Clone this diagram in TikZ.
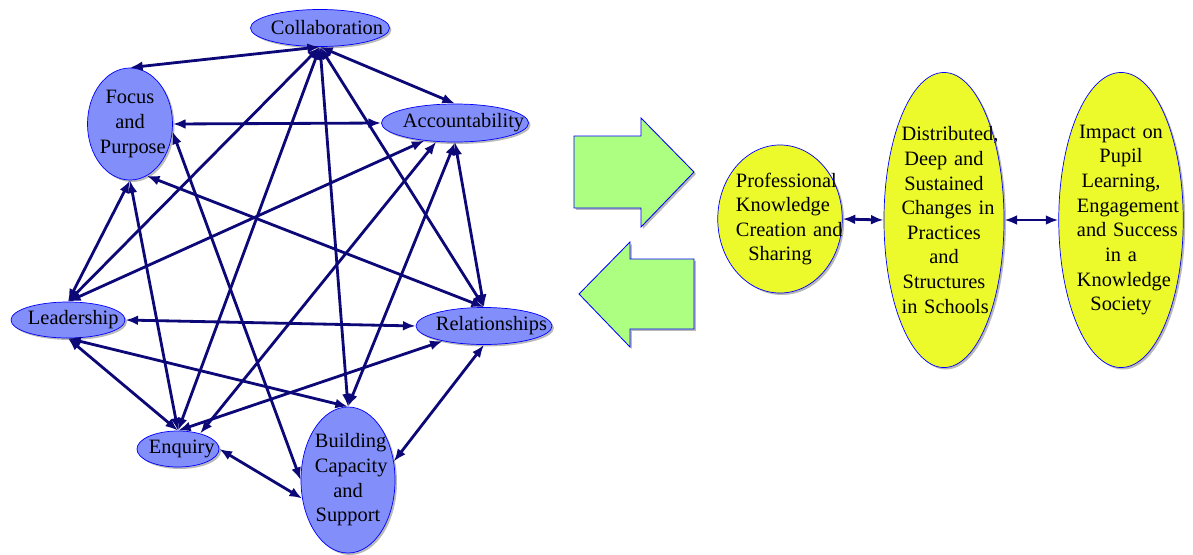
\documentclass[tikz,border=0pt]{standalone}
\usepackage{fontspec}
\setmainfont{Liberation Serif}
\usetikzlibrary{shapes.geometric,arrows.meta,shadows}
\hyphenpenalty=10000
\definecolor{bubbleblue}{RGB}{130,142,250}
\definecolor{bubbleyellow}{RGB}{236,250,44}
\definecolor{arrowgreen}{RGB}{172,255,128}
\definecolor{linknavy}{RGB}{12,8,120}
\tikzstyle{factor}=[ellipse,draw=blue,line width=0.5pt,fill=bubbleblue,inner sep=0pt,align=center,font=\fontsize{14.5}{17.5}\selectfont,drop shadow={shadow xshift=1.4pt,shadow yshift=-1.4pt,fill=black!55}]
\tikzstyle{outcome}=[factor,fill=bubbleyellow]
\tikzstyle{link}=[{Latex[length=9pt,width=7pt]}-{Latex[length=9pt,width=7pt]},line width=2pt,draw=linknavy]
\tikzstyle{bigarrow}=[fill=arrowgreen,draw=blue,line width=0.6pt,drop shadow={shadow xshift=1.4pt,shadow yshift=-1.4pt,fill=black!55}]

\begin{document}
\begin{tikzpicture}[x=0.025cm,y=-0.025cm]
\useasboundingbox (0,0) rectangle (1193,554);
% the seven factors
\node[factor,minimum width=3.475cm,minimum height=0.925cm,text width=2.45cm] at (320,28) (col) {Collaboration};
\node[factor,minimum width=2.125cm,minimum height=2.8cm,text width=1.5cm] at (130,124) (foc) {Focus\\and\\Purpose};
\node[factor,minimum width=3.675cm,minimum height=0.95cm,text width=2.6cm] at (455,123) (acc) {Accountability};
\node[factor,minimum width=2.85cm,minimum height=0.9cm,text width=2.0cm] at (68,320) (lea) {Leadership};
\node[factor,minimum width=3.4cm,minimum height=0.925cm,text width=2.4cm] at (484,326) (rel) {Relationships};
\node[factor,minimum width=2.05cm,minimum height=0.9cm,text width=1.45cm] at (178,449) (enq) {Enquiry};
\node[factor,minimum width=2.35cm,minimum height=3.65cm,text width=1.65cm] at (348,480) (bui) {Building\\Capacity\\and\\Support};
% every factor linked to every other
\draw[link] (col.south) -- (foc.north);
\draw[link] (col.south) -- (acc.north);
\draw[link] (col.south) -- (lea.north);
\draw[link] (col.south) -- (enq.north);
\draw[link] (col.south) -- (bui.north);
\draw[link] (col.south) -- (rel.north);
\draw[link] (acc.west) -- (foc.east);
\draw[link] (foc.south) -- (lea.north);
\draw[link] (foc.south) -- (enq.north);
\draw[link] (foc.-72) -- (rel.north);
\draw[link] (foc.-10) -- (bui.west);
\draw[link] (acc.-150) -- (lea.north);
\draw[link] (acc.-135) -- (enq.35);
\draw[link] (acc.south) -- (bui.north);
\draw[link] (acc.south) -- (rel.north);
\draw[link] (lea.east) -- (rel.west);
\draw[link] (lea.south) -- (enq.north);
\draw[link] (lea.south) -- (bui.north);
\draw[link] (rel.-160) -- (enq.north);
\draw[link] (rel.south) -- (bui.22);
\draw[link] (enq.east) -- (bui.-158);
% the two block arrows
\filldraw[bigarrow] (574,136) -- (641,136) -- (641,118) -- (694,172) -- (641,227) -- (641,208) -- (574,208) -- cycle;
\filldraw[bigarrow] (694,259) -- (630,259) -- (630,242) -- (579,294) -- (630,347) -- (630,329) -- (694,329) -- cycle;
% outcomes
\node[outcome,minimum width=3.1cm,minimum height=3.7cm,text width=2.2cm] at (780,219) (prof) {Professional\\Knowledge\\Creation~and\\Sharing};
\node[outcome,minimum width=3.0cm,minimum height=7.375cm,text width=2.12cm] at (944,220) (dist) {Distributed,\\Deep~and\\Sustained\\Changes~in\\Practices\\and\\Structures\\in~Schools};
\node[outcome,minimum width=3.1cm,minimum height=7.375cm,text width=2.2cm] at (1121,220) (imp) {Impact~on\\Pupil\\Learning,\\Engagement\\and~Success\\in~a\\Knowledge\\Society};
\draw[link] (prof.east) -- (dist.west);
\draw[link] (dist.east) -- (imp.west);
\end{tikzpicture}
\end{document}
